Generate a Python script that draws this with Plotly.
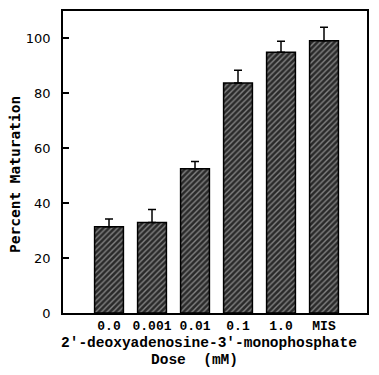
import plotly.graph_objects as go

categories = ["0.0", "0.001", "0.01", "0.1", "1.0", "MIS"]
values = [31.4, 33.0, 52.5, 83.8, 95.0, 99.2]
errors_plus = [2.8, 4.7, 2.7, 4.6, 4.0, 4.9]
y_ticks = [0, 20, 40, 60, 80, 100]

positions = list(range(len(categories)))

fig = go.Figure()
fig.add_trace(go.Bar(
    x=positions,
    y=values,
    width=0.67,
    marker=dict(
        color="#2a2a2a",
        line=dict(color="black", width=1.5),
        pattern=dict(shape="/", fgcolor="#dddddd", bgcolor="#2a2a2a",
                     size=4, solidity=0.35),
    ),
    error_y=dict(type="data", symmetric=False, array=errors_plus,
                 arrayminus=[0] * len(values), color="black",
                 thickness=1.5, width=4),
    showlegend=False,
))

fig.update_layout(
    width=379, height=375,
    margin=dict(l=63, r=12, t=11, b=62, autoexpand=False),
    plot_bgcolor="white", paper_bgcolor="white",
    xaxis=dict(
        range=[-1.07, 6.0],
        tickvals=positions, ticktext=categories,
        showgrid=False, zeroline=False, automargin=False,
        showline=True, linecolor="black", linewidth=1.5, mirror=True,
        ticks="",
        tickfont=dict(family="Liberation Mono", size=13, color="black", weight="bold"),
    ),
    yaxis=dict(
        range=[0, 110],
        tickvals=y_ticks,
        showgrid=False, zeroline=False, automargin=False,
        showline=True, linecolor="black", linewidth=1.5, mirror=True,
        ticks="inside", ticklen=6, tickwidth=1.5, tickcolor="black",
        ticklabelstandoff=8,
        tickfont=dict(family="DejaVu Sans", size=13, color="black"),
    ),
    annotations=[
        dict(text="Percent Maturation", xref="paper", yref="paper",
             x=-(63 - 15) / 304, y=(313 - 175) / 302, xanchor="center", yanchor="middle",
             textangle=-90, showarrow=False,
             font=dict(family="DejaVu Sans Mono", size=14.5, color="black", weight="bold")),
        dict(text="2'-deoxyadenosine-3'-monophosphate", xref="paper", yref="paper",
             x=(209 - 63) / 304, y=(313 - 343) / 302, xanchor="center", yanchor="middle",
             showarrow=False,
             font=dict(family="Liberation Mono", size=14.5, color="black", weight="bold")),
        dict(text="Dose  (mM)", xref="paper", yref="paper",
             x=(194 - 63) / 304, y=(313 - 360) / 302, xanchor="center", yanchor="middle",
             showarrow=False,
             font=dict(family="Liberation Mono", size=14.5, color="black", weight="bold")),
    ],
)

fig.write_html("out.html", config={"displayModeBar": False},
               post_script="document.body.style.margin='0';")
